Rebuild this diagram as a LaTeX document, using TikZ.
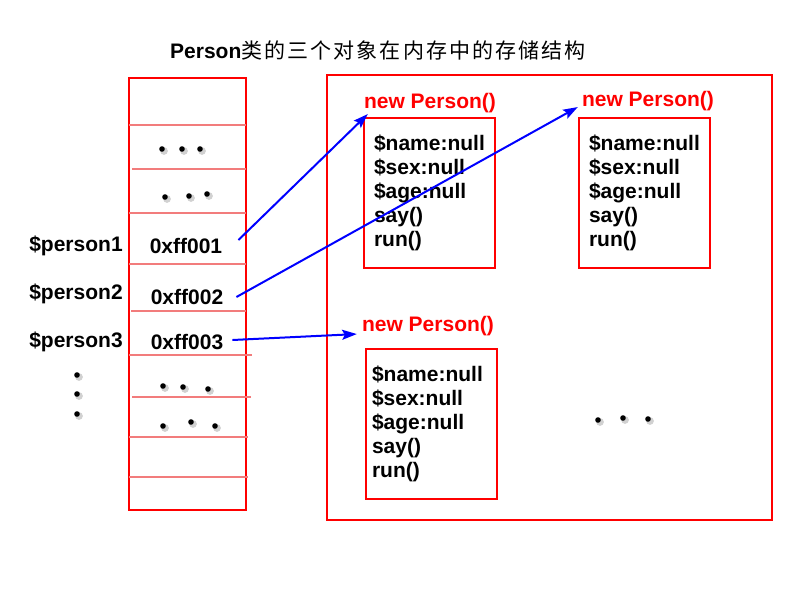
\documentclass[tikz,border=0pt]{standalone}
\usepackage{fontspec}
\setmainfont{Liberation Sans}
\newfontfamily\cjk[LetterSpace=10]{Noto Sans CJK SC}
\usetikzlibrary{
  arrows.meta,
  positioning,
  calc
}
\definecolor{memred}{HTML}{FF0000}
\definecolor{rowline}{HTML}{F27C7C}
\definecolor{ptrblue}{HTML}{0000FF}
\newcommand{\memfont}{\fontsize{15.75}{18}\selectfont\bfseries}
\newcommand{\memdot}[1]{%
  \fill[black!18] ($(#1)+(2,2)$) circle (2.9pt);
  \fill[black] (#1) circle (2.1pt);}
\tikzset{
  base/.style={
    text=black,
    font=\memfont,
    inner sep=0pt,
  },
  newlbl/.style={
    base,
    text=memred,
  },
  objbox/.style={
    base,
    draw=memred,
    line width=1.5pt,
    align=left,
    anchor=north west,
    text width=83.25pt,
    inner xsep=7.5pt,
    minimum height=112.5pt,
  },
  memframe/.style={
    draw=memred,
    line width=1.5pt,
  },
  rowsep/.style={
    draw=rowline,
    line width=1pt,
  },
  ptr/.style={
    -{Stealth[length=11pt, width=7.5pt, inset=2pt]},
    line width=1.5pt,
    draw=ptrblue,
  },
}

\begin{document}
\begin{tikzpicture}[x=0.75pt, y=-0.75pt]
\useasboundingbox (0,0) rectangle (800,600);

% === Title ===
\node[base] (title) at (378,50)
  {Person{\cjk\mdseries 类的三个对象在内存中的存储结构}};

% === Stack ===
\draw[memframe] (129,78) rectangle (246,510);
\foreach \y/\xa/\xb in {125/129/246, 169/132/246, 213/129/246,
    264/129/246, 311/131/246, 355/129/252, 397/132/251,
    437/129/248, 477/129/248}
  \draw[rowsep] (\xa,\y) -- (\xb,\y);

\node[base] (addr1) at (186,246) {0xff001};
\node[base] (addr2) at (187,297) {0xff002};
\node[base] (addr3) at (187,342) {0xff003};

\node[base] (var1) at (76,246) {\$person1};
\node[base] (var2) at (76,294) {\$person2};
\node[base] (var3) at (76,342) {\$person3};

% dots
\foreach \p in {{162,149},{182,149},{200,149},
    {165,197},{189,196},{207,194},
    {163,386},{183,387},{208,389},
    {163,426},{191,422},{215,426},
    {77,375},{77,394},{77,414}}
  {\memdot{\p}}

% === Heap ===
\draw[memframe] (327,75) rectangle (772,520);

\node[newlbl] (new1) at (430,103) {new Person()};
\node[objbox] (obj1) at (363,117)
  {\$name:null\\\$sex:null\\\$age:null\\say()\\run()};

\node[newlbl] (new2) at (648,101) {new Person()};
\node[objbox] (obj2) at (578,117)
  {\$name:null\\\$sex:null\\\$age:null\\say()\\run()};

\node[newlbl] (new3) at (428,326) {new Person()};
\node[objbox, inner xsep=4.5pt, text width=89.25pt] (obj3) at (365,348)
  {\$name:null\\\$sex:null\\\$age:null\\say()\\run()};

\foreach \p in {{598,420},{623,418},{648,419}}
  {\memdot{\p}}

% === References ===
\draw[ptr] ([shift={(16,-6)}]addr1.east) -- ([shift={(4,1)}]new1.south west);
\draw[ptr] ([shift={(13,0)}]addr2.east) -- ([shift={(-4,-4)}]new2.south west);
\draw[ptr] ([shift={(9,-2)}]addr3.east) -- ([shift={(-5,-2)}]new3.south west);

\end{tikzpicture}
\end{document}
